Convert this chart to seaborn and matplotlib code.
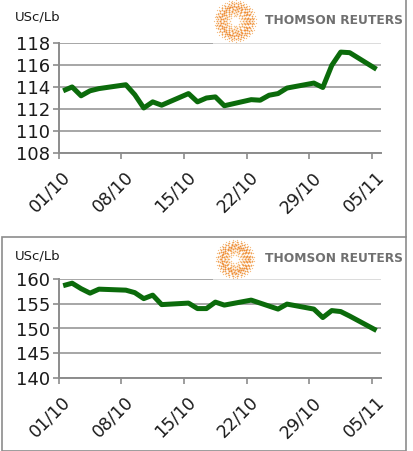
import numpy as np
import pandas as pd
import matplotlib
matplotlib.use("Agg")
import matplotlib.pyplot as plt
import matplotlib.transforms as mtransforms
import seaborn as sns
from matplotlib.patches import Rectangle

# ---------------- data ----------------
dates = ["2012-10-01", "2012-10-02", "2012-10-03", "2012-10-04", "2012-10-05",
         "2012-10-08", "2012-10-09", "2012-10-10", "2012-10-11", "2012-10-12",
         "2012-10-15", "2012-10-16", "2012-10-17", "2012-10-18", "2012-10-19",
         "2012-10-22", "2012-10-23", "2012-10-24", "2012-10-25", "2012-10-26",
         "2012-10-29", "2012-10-30", "2012-10-31", "2012-11-01", "2012-11-02",
         "2012-11-05"]
top_values = [113.65, 114.0, 113.2, 113.65, 113.85,
              114.2, 113.3, 112.1, 112.65, 112.35,
              113.4, 112.65, 113.0, 113.1, 112.3,
              112.85, 112.8, 113.25, 113.4, 113.9,
              114.35, 113.95, 115.95, 117.15, 117.1,
              115.6]
bottom_values = [158.6, 159.1, 158.0, 157.1, 157.9,
                 157.7, 157.2, 156.0, 156.7, 154.8,
                 155.1, 154.0, 154.0, 155.3, 154.7,
                 155.7, 155.1, 154.5, 153.9, 154.9,
                 153.9, 152.2, 153.6, 153.4, 152.5,
                 149.6]
tick_labels = ["01/10", "08/10", "15/10", "22/10", "29/10", "05/11"]
unit_label = "USc/Lb"
logo_text = "THOMSON REUTERS"

top_yticks = [108, 110, 112, 114, 116, 118]
bottom_yticks = [140, 145, 150, 155, 160]

# ---------------- style ----------------
sns.set_style("white")
plt.rcParams["font.family"] = ["DejaVu Sans"]

W, H = 414, 451
fig = plt.figure(figsize=(W / 100, H / 100), dpi=100)

start = pd.Timestamp("2012-10-01")
day = (pd.to_datetime(dates) - start).days.values + 0.5
tick_days = [(pd.Timestamp("2012-" + t[3:] + "-" + t[:2]) - start).days for t in tick_labels]

df_top = pd.DataFrame({"day": day, "value": top_values})
df_bot = pd.DataFrame({"day": day, "value": bottom_values})

GRID = "#a6a6a6"
SPINE = "#8c8c8c"
LINE = "#0b6b0b"
TXT = "#1a1a1a"


def px_axes(left, right, top, bottom):
    return fig.add_axes([left / W, 1 - bottom / H, (right - left) / W, (bottom - top) / H])


def style_axes(ax, yticks):
    ax.set_xlim(0, 36)
    ax.set_ylim(yticks[0], yticks[-1])
    ax.set_yticks(yticks)
    ax.set_yticklabels([str(v) for v in yticks], fontsize=13, color=TXT)
    ax.set_xticks(tick_days)
    ax.grid(axis="y", color=GRID, linewidth=1.4)
    ax.grid(axis="x", visible=False)
    ax.set_axisbelow(True)
    for s in ["top", "right"]:
        ax.spines[s].set_visible(False)
    for s in ["left", "bottom"]:
        ax.spines[s].set_color(SPINE)
        ax.spines[s].set_linewidth(1.4)
    ax.tick_params(axis="both", which="major", length=4, width=1.2, color=SPINE,
                   direction="out", left=True, bottom=True)
    ax.tick_params(axis="y", pad=2)
    ax.tick_params(axis="x", pad=2)
    ax.set_xlabel("")
    ax.set_ylabel("")
    ax.set_xticklabels(tick_labels, fontsize=12.5, rotation=45, ha="right",
                       va="center", rotation_mode="anchor", color=TXT)
    off = mtransforms.ScaledTranslation(9 / 100, -13 / 100, fig.dpi_scale_trans)
    for lab in ax.get_xticklabels():
        lab.set_transform(lab.get_transform() + off)


ax1 = px_axes(58.7, 381, 42.7, 153.3)
sns.lineplot(data=df_top, x="day", y="value", ax=ax1, color=LINE, linewidth=3.6,
             solid_capstyle="butt", solid_joinstyle="round")
style_axes(ax1, top_yticks)

ax2 = px_axes(58.7, 381, 278.7, 378.3)
sns.lineplot(data=df_bot, x="day", y="value", ax=ax2, color=LINE, linewidth=3.6,
             solid_capstyle="butt", solid_joinstyle="round")
style_axes(ax2, bottom_yticks)

# ---------------- overlay: frames, logo, unit labels ----------------
ov = fig.add_axes([0, 0, 1, 1], zorder=10)
ov.set_xlim(0, W)
ov.set_ylim(H, 0)
ov.axis("off")
ov.patch.set_alpha(0)

# top panel: only right edge visible (cropped), bottom panel: full frame
ov.plot([406, 406], [0, 237], color=SPINE, lw=1.2)
ov.add_patch(Rectangle((2.5, 237), 403.5, 213.5, fill=False, ec=SPINE, lw=1.2))


def logo(cx, cy, box_top, box_bottom, scale=1.0):
    ov.add_patch(Rectangle((213, box_top), 168, box_bottom - box_top,
                           fc="white", ec="none", alpha=0.6))
    radii = [5.5, 8.5, 11.5, 14.5, 17.5, 20.0]
    sizes = [2.0, 3.0, 3.8, 3.8, 2.8, 1.5]
    cols = ["#f6c287", "#f4a95c", "#f09640", "#ee8c34", "#f09c4c", "#f5bb80"]
    for r, s, c in zip(radii, sizes, cols):
        r = r * scale
        n = int(round(2 * np.pi * r / 3.6))
        for k in range(2):
            th = np.linspace(0, 2 * np.pi, n, endpoint=False) + k * np.pi / n
            rr = r + (k - 0.5) * 1.3
            ov.scatter(cx + rr * np.cos(th), cy + rr * np.sin(th), s=s * 0.55,
                       color=c, linewidths=0)
    ov.text(265, cy, logo_text, fontsize=8.8, fontweight="bold", color="#707070",
            ha="left", va="center")


logo(235, 21, 0, 44.5)
logo(235, 259, 238, 279.5, scale=0.92)

ov.text(15, 17, unit_label, fontsize=9.5, color=TXT, ha="left", va="center")
ov.text(15, 256, unit_label, fontsize=9.5, color=TXT, ha="left", va="center")

fig.savefig("out.png", dpi=100)
